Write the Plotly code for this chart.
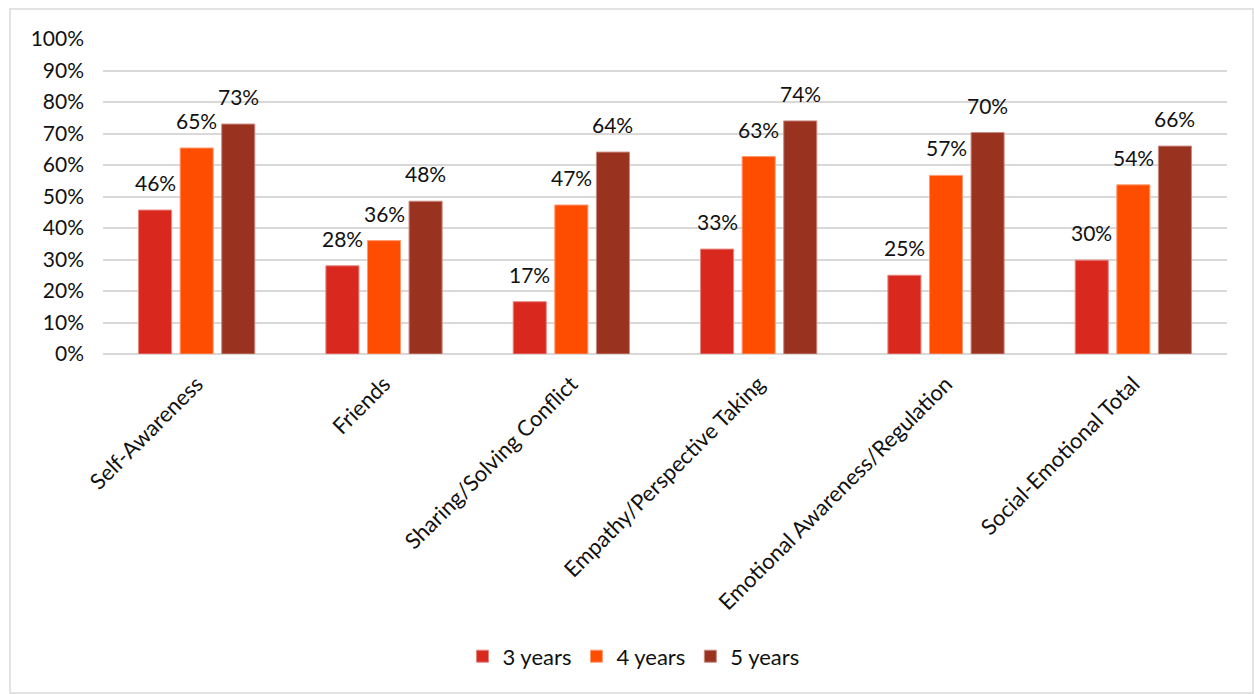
import plotly.graph_objects as go

categories = ["Self-Awareness", "Friends", "Sharing/Solving Conflict",
              "Empathy/Perspective Taking", "Emotional Awareness/Regulation",
              "Social-Emotional Total"]
series_names = ["3 years", "4 years", "5 years"]
vals_3 = [45.7, 28.0, 16.6, 33.3, 25.0, 29.8]
vals_4 = [65.4, 36.0, 47.3, 62.7, 56.7, 53.7]
vals_5 = [73.0, 48.5, 64.1, 74.0, 70.3, 66.0]
colors = ["#D9291F", "#FF4D00", "#99321F"]
outline = ["#E8857F", "#FF9A6E", "#C98A80"]

FONT = "Lato"
FS = 21
fig = go.Figure()
for name, vals, c, oc in zip(series_names, [vals_3, vals_4, vals_5], colors, outline):
    fig.add_trace(go.Bar(
        x=categories, y=vals, name=name,
        marker=dict(color=c, line=dict(color=oc, width=1)),
    ))

# data labels, placed above each bar through the axes
offsets = [-41.5, 0, 41.5]
annotations = []
for vals, dx in zip([vals_3, vals_4, vals_5], offsets):
    for cat, v in zip(categories, vals):
        annotations.append(dict(
            x=cat, y=v, xref="x", yref="y", text=f"{round(v):.0f}%",
            showarrow=False, xshift=dx, yshift=13, yanchor="bottom",
            font=dict(size=FS, family=FONT, color="#111111"),
        ))

fig.update_layout(
    width=1254, height=694,
    margin=dict(l=103, r=27, t=39, b=340, autoexpand=False),
    paper_bgcolor="white", plot_bgcolor="white",
    barmode="group", bargap=0.334, bargroupgap=0.205,
    font=dict(family=FONT, size=FS, color="#111111"),
    showlegend=True,
    legend=dict(orientation="h", x=0.472, xanchor="center",
                y=-0.96, yanchor="middle",
                font=dict(size=22, family=FONT), itemwidth=30, traceorder="normal"),
    xaxis=dict(tickangle=-45, tickfont=dict(size=22, family=FONT), showline=False,
               showgrid=False, ticks="", ticklabelstandoff=12, automargin=False),
    yaxis=dict(range=[0, 100], dtick=10, ticksuffix="%", showgrid=True,
               gridcolor="#D9D9D9", gridwidth=1.5, zeroline=True, zerolinecolor="#D9D9D9",
               zerolinewidth=1.5, tickfont=dict(size=FS, family=FONT), ticklabelstandoff=18,
               automargin=False),
    annotations=annotations,
    shapes=[dict(type="rect", xref="paper", yref="paper",
                 x0=(10 - 103) / 1124, x1=(1253 - 103) / 1124,
                 y0=(354 - 693) / 315, y1=1 + (39 - 9) / 315,
                 line=dict(color="#D9D9D9", width=1.5), layer="below")],
)

fig.write_html("out.html")
